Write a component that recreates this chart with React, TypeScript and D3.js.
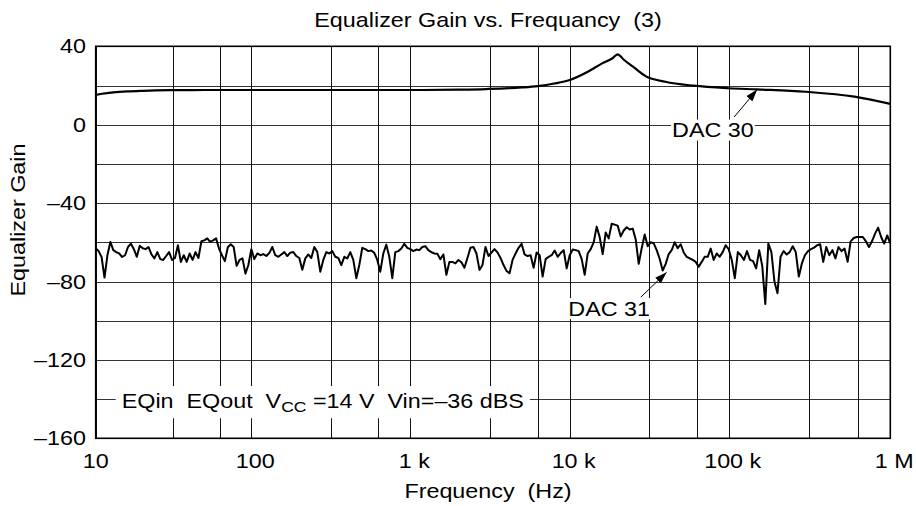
import React, { useEffect, useRef } from 'react';
import * as d3 from 'd3';

const FREQ_TICKS = [10, 100, 1e3, 1e4, 1e5, 1e6];
const FREQ_LABELS = ['10', '100', '1 k', '10 k', '100 k', '1 M'];
const FREQ_MINOR = [31.6, 63, 316, 630, 3160, 6300, 31600, 63000, 316000, 630000];
const GAIN_TICKS = [40, 0, -40, -80, -120, -160];
const GAIN_GRID = [40, 20, 0, -20, -40, -60, -80, -100, -120, -140, -160];

// DAC 30 response
const DAC30_FREQ = [10, 11, 13, 16, 20, 30, 50, 100, 1000, 2000, 3000, 5000, 6300, 8000, 10000, 13000, 16000, 18600, 20000, 22000, 25000, 30000, 40000, 60000, 100000, 150000, 300000, 600000, 1000000];
const DAC30_GAIN = [15.2, 15.8, 16.5, 17.0, 17.3, 17.6, 17.7, 17.7, 17.7, 17.9, 18.2, 19.0, 19.7, 21.0, 22.8, 27.0, 31.3, 33.9, 35.9, 33.0, 29.6, 24.8, 21.9, 19.9, 18.6, 18.0, 16.8, 14.3, 10.6];

// DAC 31 (noise floor), sampled on an even log sweep 10 Hz .. 1 MHz
const DAC31_GAIN = [
  -63, -64.5, -67.5, -78, -66.5, -59.8, -64, -65, -65.7, -67.5, -66.6, -62.4, -60.7, -63.5, -67.4, -61.8, -63, -63.5, -62.4, -66.2,
  -68.2, -65, -68.6, -69, -67, -65, -69, -68, -61.5, -70, -66.6, -70, -65.7, -69, -65, -68, -59.5, -59, -58, -59.8,
  -59, -58, -63.2, -66.6, -69.6,
  -62.5, -61, -62.4, -72, -69, -68.2, -76, -71.6, -63.5, -68.6, -65.7, -66.6, -66, -67, -65.5, -62.4, -66.6, -67.4, -66.2, -65,
  -67, -65.3, -65, -67, -68, -74, -68.2, -66.2, -68, -62.4, -65, -75, -69, -65, -65.7, -64.5, -67.4, -68, -71.6, -67.4,
  -68.2, -65, -69, -78.3,
  -71.6, -62.8, -63.5, -64.5, -64.2, -65.4, -69, -75, -65.7, -61.2, -67.4, -78.3, -65, -64.5, -63.2, -60.8, -62.8, -63.5, -64.5, -63.7,
  -64, -62.4, -62, -64, -65, -65.7, -65.9, -68.6, -66.2, -76.6, -70, -70, -70.8, -69, -70.2, -73, -68, -62.8, -62.4, -65.7,
  -74.1, -71.6, -62.4, -67,
  -65.2, -63.5, -65.2, -68, -71.6, -74.6, -75.8, -69, -65.7, -62.8, -60.8, -66.2, -67, -66.6, -73, -65.2, -66.6, -77.5, -68.6, -67.4,
  -66.6, -64.2, -67.4, -65.5, -64, -73.3, -66.6, -63.7, -64, -64.5, -68.6, -76.6, -65.7, -63.5, -60, -52, -57.4, -66, -55, -58,
  -50.5, -51, -51.5, -57,
  -54, -52.3, -53.5, -53, -58.5, -71, -63, -56, -62, -60, -60.5, -64, -68.5, -74.4, -71, -66, -64, -60, -63, -61,
  -65.2, -67.4, -68.2, -69, -70, -72.4, -70, -67.4, -67.4, -63.2, -69, -65.7, -67.4, -65, -61.5, -63.5, -69, -78.3, -65, -66.6,
  -69, -64.5, -69, -69.6,
  -73.3, -64, -72, -91.5, -60.7, -65, -80, -86, -67.4, -64.5, -66.2, -65, -62, -65, -77.5, -70.8, -66.6, -64.5, -63.5, -62.7,
  -61.5, -61, -70, -62.4, -66.6, -64, -68.2, -62.4, -64.5, -63.2, -70, -59.5, -57.8, -57.3, -57.3, -57.3, -59.5, -62.4, -59.5, -55.6,
  -52.5, -57.3, -60.7, -56.5, -60.7,
];
const DAC31_FREQ = DAC31_GAIN.map((_, i) => 10 * Math.pow(10, (5 * i) / (DAC31_GAIN.length - 1)));

const NOTES = [
  { label: 'DAC 30', textF: 79600, textG: -2.7, tailF: 108000, tailG: 3.9, tipF: 150000, tipG: 17.9 },
  { label: 'DAC 31', textF: 17700, textG: -93.8, tailF: 28000, tailG: -88, tipF: 40700, tipG: -75.3 },
];

const SX = 1.167; // the source font is drawn a little wide
const FONT = '"Liberation Sans", Arial, Helvetica, sans-serif';

export default function App() {
  const ref = useRef<SVGSVGElement | null>(null);
  useEffect(() => {
    const svg = d3.select(ref.current);
    svg.selectAll('*').remove();
    const width = 916, height = 506;
    const plot = { left: 95.7, right: 890.3, top: 46.3, bottom: 438.3 };

    // decades are not quite even in the source, so a piecewise log scale
    const x = d3.scaleLog().domain(FREQ_TICKS).range([95.7, 251.3, 410.3, 569.7, 728.7, 890.3]);
    const y = d3.scaleLinear().domain([-160, 40]).range([plot.bottom, plot.top]);
    const crisp = (v: number) => Math.round(v) + 0.5;

    svg.attr('viewBox', `0 0 ${width} ${height}`).attr('font-family', FONT);
    svg.append('rect').attr('width', width).attr('height', height).attr('fill', '#fff');

    const defs = svg.append('defs');
    defs.append('marker').attr('id', 'arrow').attr('viewBox', '0 0 12 8').attr('refX', 12).attr('refY', 4)
      .attr('markerWidth', 12).attr('markerHeight', 8).attr('markerUnits', 'userSpaceOnUse').attr('orient', 'auto')
      .append('path').attr('d', 'M0,0 L12,4 L0,8 z').attr('fill', '#000');

    const grid = svg.append('g');
    grid.selectAll('line.h').data(GAIN_GRID).join('line')
      .attr('x1', plot.left).attr('x2', plot.right)
      .attr('y1', d => crisp(y(d))).attr('y2', d => crisp(y(d)))
      .attr('stroke', '#333').attr('stroke-width', 1);
    grid.selectAll('line.v').data([...FREQ_TICKS, ...FREQ_MINOR]).join('line')
      .attr('x1', d => crisp(x(d))).attr('x2', d => crisp(x(d)))
      .attr('y1', plot.top).attr('y2', plot.bottom)
      .attr('stroke', '#111').attr('stroke-width', 1);

    const text = (parent: any, px: number, py: number, str: string, anchor: string, size = 20) => {
      const g = parent.append('g').attr('transform', `translate(${px},${py}) scale(${SX},1)`);
      const t = g.append('text').attr('text-anchor', anchor).attr('font-size', size)
        .style('white-space', 'pre').attr('fill', '#000').text(str);
      return { g, t };
    };
    const backing = (g: any, t: any, padX: number, padY: number) => {
      const b = t.node().getBBox();
      g.insert('rect', 'text').attr('x', b.x - padX / SX).attr('y', b.y - padY)
        .attr('width', b.width + (2 * padX) / SX).attr('height', b.height + 2 * padY).attr('fill', '#fff');
    };

    // legend note, over the grid
    const leg = svg.append('g').attr('transform', `translate(${plot.left + 26},408) scale(${SX},1)`);
    const legT = leg.append('text').attr('font-size', 20).style('white-space', 'pre').attr('fill', '#000');
    legT.append('tspan').text('EQin  EQout  V');
    legT.append('tspan').attr('font-size', 15).attr('dy', 4).text('CC');
    legT.append('tspan').attr('dy', -4).text(' =14 V  Vin=\u201336 dBS');
    backing(leg, legT, 6, 3.5);

    const line = d3.line<[number, number]>().x(d => x(d[0])).y(d => y(d[1]));
    svg.append('path')
      .datum(DAC30_FREQ.map((f, i) => [f, DAC30_GAIN[i]] as [number, number]))
      .attr('d', line.curve(d3.curveMonotoneX))
      .attr('fill', 'none').attr('stroke', '#000').attr('stroke-width', 2.2).attr('stroke-linejoin', 'round');
    svg.append('path')
      .datum(DAC31_FREQ.map((f, i) => [f, DAC31_GAIN[i]] as [number, number]))
      .attr('d', d3.line<[number, number]>().x(d => x(d[0])).y(d => y(d[1])))
      .attr('fill', 'none').attr('stroke', '#000').attr('stroke-width', 2).attr('stroke-linejoin', 'round');

    NOTES.forEach(n => {
      const { g, t } = text(svg, x(n.textF), y(n.textG) + 7, n.label, 'middle');
      backing(g, t, 1, -1);
      svg.append('line')
        .attr('x1', x(n.tailF)).attr('y1', y(n.tailG))
        .attr('x2', x(n.tipF)).attr('y2', y(n.tipG))
        .attr('stroke', '#000').attr('stroke-width', 1).attr('marker-end', 'url(#arrow)');
    });

    svg.append('rect')
      .attr('x', plot.left).attr('y', plot.top)
      .attr('width', plot.right - plot.left).attr('height', plot.bottom - plot.top)
      .attr('fill', 'none').attr('stroke', '#000').attr('stroke-width', 1.6);

    GAIN_TICKS.forEach(v => {
      text(svg, 86, y(v) + 7, v < 0 ? `\u2013${-v}` : `${v}`, 'end');
    });
    FREQ_TICKS.forEach((f, i) => {
      text(svg, x(f) + (i === 0 ? 0 : 4), 468, FREQ_LABELS[i], 'middle');
    });

    text(svg, 488, 27, 'Equalizer Gain vs. Frequancy  (3)', 'middle');
    text(svg, 488, 498, 'Frequency  (Hz)', 'middle');
    svg.append('text')
      .attr('transform', `translate(25,220) rotate(-90) scale(${SX},1)`)
      .attr('text-anchor', 'middle').attr('font-size', 20).attr('fill', '#000')
      .text('Equalizer Gain');
  }, []);
  return (
    <div style={{ position: 'absolute', left: 0, top: 0 }}>
      <svg ref={ref} width={916} height={506} style={{ display: 'block' }} />
    </div>
  );
}
